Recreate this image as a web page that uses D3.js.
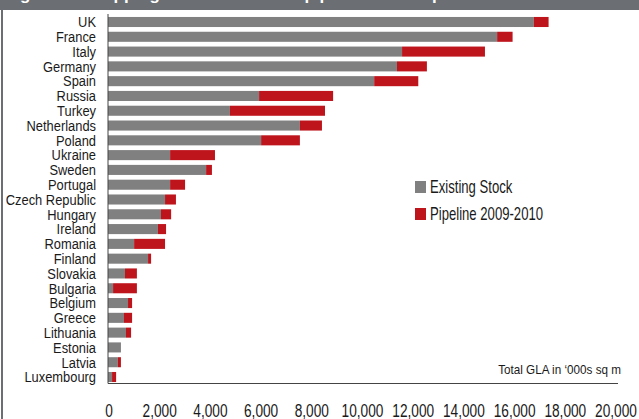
<!DOCTYPE html>
<html>
<head>
    <script type="text/javascript" src="https://d3js.org/d3.v7.min.js"></script>
    <style>
        body { margin: 0; background: #ffffff; }
        text { font-family: "Liberation Sans", Arial, sans-serif; fill: #1a1a1a; }
    </style>
</head>
<body>
    <svg width="639" height="419"></svg>

    <script>
        // shopping centre stock by country ('000s sq m)
        const countries = ["UK", "France", "Italy", "Germany", "Spain", "Russia", "Turkey",
            "Netherlands", "Poland", "Ukraine", "Sweden", "Portugal", "Czech Republic",
            "Hungary", "Ireland", "Romania", "Finland", "Slovakia", "Bulgaria", "Belgium",
            "Greece", "Lithuania", "Estonia", "Latvia", "Luxembourg"];
        const existing = [16800, 15350, 11600, 11400, 10500, 5960, 4810, 7570, 6040, 2450,
            3870, 2450, 2250, 2090, 1970, 1030, 1580, 670, 200, 790, 630, 710, 510, 390, 160];
        const pipeline = [580, 610, 3270, 1180, 1740, 2920, 3750, 870, 1530, 1770,
            230, 590, 430, 400, 320, 1220, 120, 470, 940, 160, 320, 200, 0, 120, 160];
        const xTicks = [0, 2000, 4000, 6000, 8000, 10000, 12000, 14000, 16000, 18000, 20000];
        const seriesNames = ["Existing Stock", "Pipeline 2009-2010"];
        const colors = ["#808080", "#be151d"];

        const svg = d3.select("svg");

        // header bar and left frame
        svg.append("rect").attr("x", 0).attr("y", 0).attr("width", 639).attr("height", 10)
            .attr("fill", "#6b6e72");
        svg.append("rect").attr("x", 1).attr("y", 10).attr("width", 2).attr("height", 409)
            .attr("fill", "#6b6e72");
        svg.append("text").attr("x", 5).attr("y", -0.5)
            .style("font-weight", "bold").style("font-size", "17px").style("fill", "#ffffff")
            .text("Figure 4: Shopping centre stock and pipeline in Europe");

        const x = d3.scaleLinear().domain([0, 20000]).range([108, 615]);
        const y = d3.scaleBand().domain(countries).range([14.6, 384.4])
            .paddingInner(0.32).paddingOuter(0.16);

        const rows = countries.map((c, i) => ({ name: c, stock: existing[i], pipe: pipeline[i] }));

        // bars
        const plot = svg.append("g");
        plot.selectAll(".stock").data(rows).enter().append("rect")
            .attr("x", x(0))
            .attr("y", d => y(d.name))
            .attr("width", d => x(d.stock) - x(0))
            .attr("height", y.bandwidth())
            .attr("fill", colors[0]);
        plot.selectAll(".pipe").data(rows.filter(d => d.pipe > 0)).enter().append("rect")
            .attr("x", d => x(d.stock))
            .attr("y", d => y(d.name))
            .attr("width", d => x(d.stock + d.pipe) - x(d.stock))
            .attr("height", y.bandwidth())
            .attr("fill", colors[1]);

        // axis lines
        svg.append("line").attr("x1", x(0)).attr("x2", x(0)).attr("y1", 14).attr("y2", 383.5)
            .attr("stroke", "#444").attr("stroke-width", 1);
        svg.append("line").attr("x1", x(0)).attr("x2", 618).attr("y1", 383.5).attr("y2", 383.5)
            .attr("stroke", "#444").attr("stroke-width", 1);

        // category labels (condensed look)
        svg.selectAll(".cat").data(countries).enter().append("text")
            .attr("transform", d => `translate(96,${y(d) + y.bandwidth() / 2 + 5.3}) scale(0.86,1)`)
            .attr("text-anchor", "end")
            .style("font-size", "15px")
            .text(d => d);

        // x tick labels
        svg.selectAll(".tick").data(xTicks).enter().append("text")
            .attr("transform", d => `translate(${x(d) + 1},417) scale(0.72,1)`)
            .attr("text-anchor", "middle")
            .style("font-size", "19px")
            .text(d => d3.format(",")(d));

        svg.append("text")
            .attr("transform", "translate(621,374) scale(0.9,1)")
            .attr("text-anchor", "end")
            .style("font-size", "13px")
            .text("Total GLA in \u2018000s sq m");

        // legend
        const legend = svg.selectAll(".legend").data(seriesNames).enter().append("g")
            .attr("transform", (d, i) => `translate(415,${181 + i * 27})`);
        legend.append("rect").attr("width", 11).attr("height", 12)
            .attr("fill", (d, i) => colors[i]);
        legend.append("text")
            .attr("transform", "translate(15,12) scale(0.75,1)")
            .style("font-size", "17.5px")
            .text(d => d);
    </script>
</body>
</html>
